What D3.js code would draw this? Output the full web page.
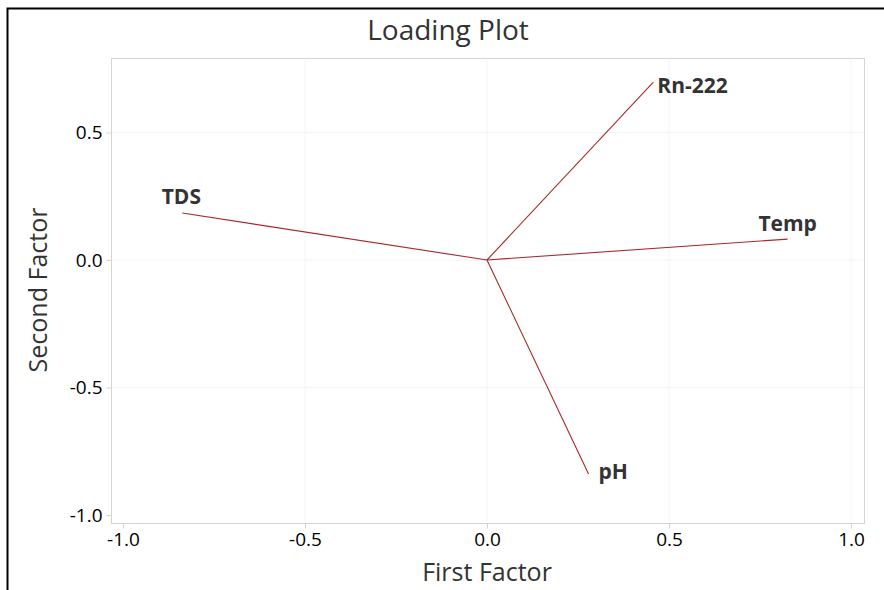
<!DOCTYPE html>
<html>
<head>
<meta charset="utf-8">
<script src="https://cdn.jsdelivr.net/npm/d3@7"></script>
<style>
  body { margin: 0; background: #fff; }
  text { font-family: "Open Sans", "Noto Sans", sans-serif; }
</style>
</head>
<body>
<div id="chart"></div>
<script>
// loadings
var variables = ["Rn-222", "Temp", "TDS", "pH"];
var factor1 = [0.457, 0.826, -0.837, 0.279];
var factor2 = [0.698, 0.082, 0.184, -0.839];
var xTicks = [-1.0, -0.5, 0.0, 0.5, 1.0];
var yTicks = [-1.0, -0.5, 0.0, 0.5];

var W = 884, H = 590;
var box = {left: 111, right: 864, top: 58, bottom: 523};

var x = d3.scaleLinear().domain([-1.0, 1.0]).range([123, 851]);
var y = d3.scaleLinear().domain([0.0, 0.5]).range([260, 132.5]);

var svg = d3.select("#chart").append("svg")
  .attr("width", W)
  .attr("height", H);

svg.append("rect").attr("width", W).attr("height", H).attr("fill", "#fff");

// outer frame
svg.append("rect")
  .attr("x", 7.5).attr("y", 8.5)
  .attr("width", W + 20).attr("height", H + 20)
  .attr("fill", "none").attr("stroke", "#000").attr("stroke-width", 2);

// faint gridlines
svg.append("g").selectAll("line")
  .data(xTicks.filter(d => d > -1))
  .enter().append("line")
  .attr("x1", d => x(d)).attr("x2", d => x(d))
  .attr("y1", box.top).attr("y2", box.bottom)
  .attr("stroke", "#f4f4f4");
svg.append("g").selectAll("line")
  .data(yTicks.filter(d => d > -1))
  .enter().append("line")
  .attr("y1", d => y(d)).attr("y2", d => y(d))
  .attr("x1", box.left).attr("x2", box.right)
  .attr("stroke", "#f4f4f4");

// plot area border
svg.append("rect")
  .attr("x", box.left + 0.5).attr("y", box.top + 0.5)
  .attr("width", box.right - box.left).attr("height", box.bottom - box.top)
  .attr("fill", "none").attr("stroke", "#d4d4d4");

var xAxis = svg.append("g")
  .attr("transform", "translate(0," + (box.bottom + 0.5) + ")")
  .call(d3.axisBottom(x).tickValues(xTicks).tickFormat(d3.format(".1f")).tickSize(5).tickPadding(4));
var yAxis = svg.append("g")
  .attr("transform", "translate(" + (box.left + 0.5) + ",0)")
  .call(d3.axisLeft(y).tickValues(yTicks).tickFormat(d3.format(".1f")).tickSize(5).tickPadding(4));

[xAxis, yAxis].forEach(function(a) {
  a.select(".domain").remove();
  a.selectAll(".tick line").attr("stroke", "#d4d4d4");
  a.selectAll(".tick text")
    .style("font-size", "19px")
    .style("font-weight", "500")
    .attr("fill", "#000");
});
xAxis.selectAll(".tick text").text(d => d3.format(".1f")(d).replace("−", "-"));
yAxis.selectAll(".tick text").text(d => d3.format(".1f")(d).replace("−", "-"));

// loading lines
var data = variables.map(function(v, i) {
  return {name: v, f1: factor1[i], f2: factor2[i]};
});

svg.append("g").selectAll("line")
  .data(data)
  .enter().append("line")
  .attr("x1", x(0)).attr("y1", y(0))
  .attr("x2", d => x(d.f1)).attr("y2", d => y(d.f2))
  .attr("stroke", "#a52a2a")
  .attr("stroke-width", 1.1);

// label placement around the end point
var labelOffset = {
  "Rn-222": [4, 11, "start"],
  "Temp": [0, -8, "middle"],
  "TDS": [-1, -9, "middle"],
  "pH": [10, 5, "start"]
};

svg.append("g").selectAll("text")
  .data(data)
  .enter().append("text")
  .attr("x", d => x(d.f1) + labelOffset[d.name][0])
  .attr("y", d => y(d.f2) + labelOffset[d.name][1])
  .attr("text-anchor", d => labelOffset[d.name][2])
  .style("font-size", "21px")
  .style("font-weight", "bold")
  .attr("fill", "#333")
  .text(d => d.name);

// titles
svg.append("text")
  .attr("x", 448).attr("y", 40)
  .attr("text-anchor", "middle")
  .style("font-size", "28px")
  .style("font-weight", "500")
  .attr("fill", "#333")
  .text("Loading Plot");

svg.append("text")
  .attr("x", x(0)).attr("y", 581)
  .attr("text-anchor", "middle")
  .style("font-size", "25px")
  .style("font-weight", "500")
  .attr("fill", "#333")
  .text("First Factor");

svg.append("text")
  .attr("transform", "translate(47," + 290 + ") rotate(-90)")
  .attr("text-anchor", "middle")
  .style("font-size", "25px")
  .style("font-weight", "500")
  .attr("fill", "#333")
  .text("Second Factor");
</script>
</body>
</html>
